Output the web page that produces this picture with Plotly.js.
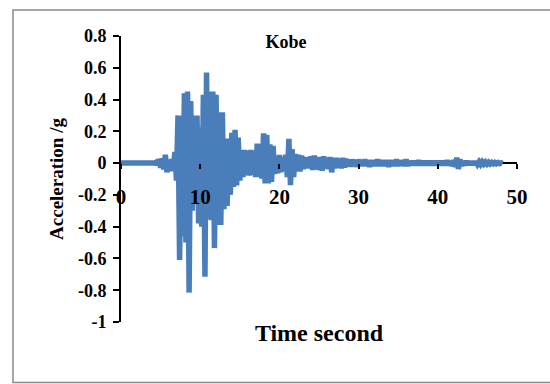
<!DOCTYPE html>
<html>
<head>
<meta charset="utf-8">
<script src="https://cdn.plot.ly/plotly-3.0.1.min.js"></script>
<style>html,body{margin:0;padding:0;background:#fff;}#chart{width:550px;height:384px;}</style>
</head>
<body>
<div id="chart"></div>
<script>
// Time (s)
var timeSec = [
0.0,0.2,0.4,0.6,0.8,1.0,1.2,1.4,1.6,1.8,2.0,2.2,2.4,2.6,2.8,3.0,3.2,3.4,3.6,3.8,
4.0,4.2,4.4,4.6,4.8,5.0,5.2,5.4,5.6,5.8,6.0,6.2,6.4,6.6,6.8,7.0,7.2,7.4,7.6,7.8,
8.0,8.2,8.4,8.6,8.8,9.0,9.2,9.4,9.6,9.8,10.0,10.2,10.4,10.6,10.8,11.0,11.2,11.4,11.6,11.8,
12.0,12.2,12.4,12.6,12.8,13.0,13.2,13.4,13.6,13.8,14.0,14.2,14.4,14.6,14.8,15.0,15.2,15.4,15.6,15.8,
16.0,16.2,16.4,16.6,16.8,17.0,17.2,17.4,17.6,17.8,18.0,18.2,18.4,18.6,18.8,19.0,19.2,19.4,19.6,19.8,
20.0,20.2,20.4,20.6,20.8,21.0,21.2,21.4,21.6,21.8,22.0,22.2,22.4,22.6,22.8,23.0,23.2,23.4,23.6,23.8,
24.0,24.2,24.4,24.6,24.8,25.0,25.2,25.4,25.6,25.8,26.0,26.2,26.4,26.6,26.8,27.0,27.2,27.4,27.6,27.8,
28.0,28.2,28.4,28.6,28.8,29.0,29.2,29.4,29.6,29.8,30.0,30.2,30.4,30.6,30.8,31.0,31.2,31.4,31.6,31.8,
32.0,32.2,32.4,32.6,32.8,33.0,33.2,33.4,33.6,33.8,34.0,34.2,34.4,34.6,34.8,35.0,35.2,35.4,35.6,35.8,
36.0,36.2,36.4,36.6,36.8,37.0,37.2,37.4,37.6,37.8,38.0,38.2,38.4,38.6,38.8,39.0,39.2,39.4,39.6,39.8,
40.0,40.2,40.4,40.6,40.8,41.0,41.2,41.4,41.6,41.8,42.0,42.2,42.4,42.6,42.8,43.0,43.2,43.4,43.6,43.8,
44.0,44.2,44.4,44.6,44.8,45.0,45.2,45.4,45.6,45.8,46.0,46.2,46.4,46.6,46.8,47.0,47.2,47.4,47.6,47.8,
48.0,48.2
];
// Acceleration (g)
var accelG = [
0,0,0,0,0,0,0,0,0,0,0,0,0,0,0,0,0,0,0,0,
0,0,0.005,-0.01,0.025,-0.03,0.03,-0.04,0.053,-0.058,0.02,-0.05,0.025,-0.045,0.07,-0.11,0.30,-0.61,0.30,-0.46,
0.44,-0.50,0.45,-0.815,0.39,-0.30,0.30,-0.15,0.30,-0.38,0.225,-0.40,0.43,-0.715,0.57,-0.35,0.45,-0.36,0.45,-0.535,
0.43,-0.39,0.32,-0.39,0.32,-0.29,0.155,-0.27,0.155,-0.20,0.19,-0.15,0.21,-0.14,0.16,-0.11,0.083,-0.088,0.083,-0.075,
0.078,-0.078,0.083,-0.073,0.078,-0.088,0.123,-0.088,0.118,-0.098,0.188,-0.128,0.178,-0.128,0.118,-0.118,0.108,-0.068,0.038,-0.064,
0.051,-0.058,0.038,-0.048,0.053,-0.088,0.153,-0.138,0.088,-0.088,0.058,-0.053,0.053,-0.053,0.048,-0.038,0.038,-0.033,0.038,-0.033,
0.043,-0.043,0.048,-0.038,0.038,-0.043,0.038,-0.048,0.043,-0.033,0.033,-0.038,0.038,-0.058,0.033,-0.033,0.033,-0.028,0.028,-0.033,
0.033,-0.028,0.028,-0.023,0.023,-0.023,0.023,-0.018,0.018,-0.023,0.023,-0.018,0.018,-0.018,0.023,-0.018,0.018,-0.023,0.018,-0.018,
0.018,-0.018,0.023,-0.018,0.018,-0.018,0.018,-0.018,0.018,-0.023,0.018,-0.018,0.018,-0.018,0.023,-0.018,0.013,-0.013,0.018,-0.018,
0.023,-0.018,0.013,-0.013,0.013,-0.013,0.013,-0.013,0.018,-0.013,0.013,-0.013,0.013,-0.013,0.013,-0.013,0.013,-0.013,0.013,-0.013,
0.013,-0.013,0.013,-0.013,0.013,-0.013,0.018,-0.013,0.013,-0.018,0.018,-0.023,0.034,-0.037,0.023,-0.018,0.013,-0.013,0.013,-0.010,
0.010,-0.010,0.010,-0.010,0.010,-0.008,0.008,-0.008,0.008,-0.006,0.006,-0.006,0.005,-0.005,0.004,-0.004,0.004,-0.004,0.003,-0.003,
0.002,-0.002
];
var xTickVals = [0, 10, 20, 30, 40, 50];
var xTickText = ['0', '10', '20', '30', '40', '50'];
var yTickVals = [-1, -0.8, -0.6, -0.4, -0.2, 0, 0.2, 0.4, 0.6, 0.8];
var yTickText = ['-1', '-0.8', '-0.6', '-0.4', '-0.2', '0', '0.2', '0.4', '0.6', '0.8'];
var chartTitle = 'Kobe';
var xTitle = 'Time second';
var yTitle = 'Acceleration /g';

var serif = '"Liberation Serif", "Times New Roman", serif';
var xMin = 0, xMax = 50, yMin = -1, yMax = 0.8;
var zeroPos = (0 - yMin) / (yMax - yMin);

var trace = {
  x: timeSec,
  y: accelG,
  type: 'scatter',
  mode: 'lines',
  line: {color: '#4a7ebb', width: 5.5, simplify: false},
  hoverinfo: 'skip',
  showlegend: false
};

var layout = {
  width: 550,
  height: 384,
  margin: {l: 121, r: 33, t: 36, b: 62, pad: 0},
  paper_bgcolor: '#ffffff',
  plot_bgcolor: '#ffffff',
  showlegend: false,
  title: {
    text: chartTitle,
    x: 286 / 550, xanchor: 'center', xref: 'container',
    y: 1 - 42 / 384, yanchor: 'middle', yref: 'container',
    font: {family: serif, size: 18, color: '#000', weight: 'bold'}
  },
  // x axis crosses at y = 0; its line is the y zero line (under the data)
  xaxis: {
    range: [xMin, xMax],
    tickmode: 'array',
    tickvals: xTickVals,
    ticktext: xTickText,
    anchor: 'free',
    position: zeroPos,
    layer: 'above traces',
    showline: false,
    ticks: 'outside', ticklen: 5, tickwidth: 2, tickcolor: '#000',
    ticklabelstandoff: 10,
    showgrid: false, zeroline: false,
    tickfont: {family: serif, size: 21, color: '#000', weight: 'bold'},
    title: {text: xTitle, standoff: 115, font: {family: serif, size: 24, color: '#000', weight: 'bold'}},
    automargin: false
  },
  yaxis: {
    range: [yMin, yMax],
    tickmode: 'array',
    tickvals: yTickVals,
    ticktext: yTickText,
    showline: true, linecolor: '#000', linewidth: 2,
    ticks: 'outside', ticklen: 6, tickwidth: 2, tickcolor: '#000',
    ticklabelstandoff: 3,
    showgrid: false,
    zeroline: true, zerolinecolor: '#000', zerolinewidth: 2, zerolinelayer: 'below traces',
    tickfont: {family: serif, size: 18, color: '#000', weight: 'bold'},
    title: {text: yTitle, standoff: 9, font: {family: serif, size: 19, color: '#000', weight: 'bold'}},
    automargin: false
  },
  shapes: [{
    type: 'rect', xref: 'paper', yref: 'paper',
    x0: -0.2727, x1: 1.2, y0: -0.2115, y1: 1.0909,
    line: {color: '#8a8a8a', width: 1.5},
    fillcolor: 'rgba(0,0,0,0)',
    layer: 'below'
  }]
};

Plotly.newPlot('chart', [trace], layout, {staticPlot: true, displayModeBar: false});
</script>
</body>
</html>
